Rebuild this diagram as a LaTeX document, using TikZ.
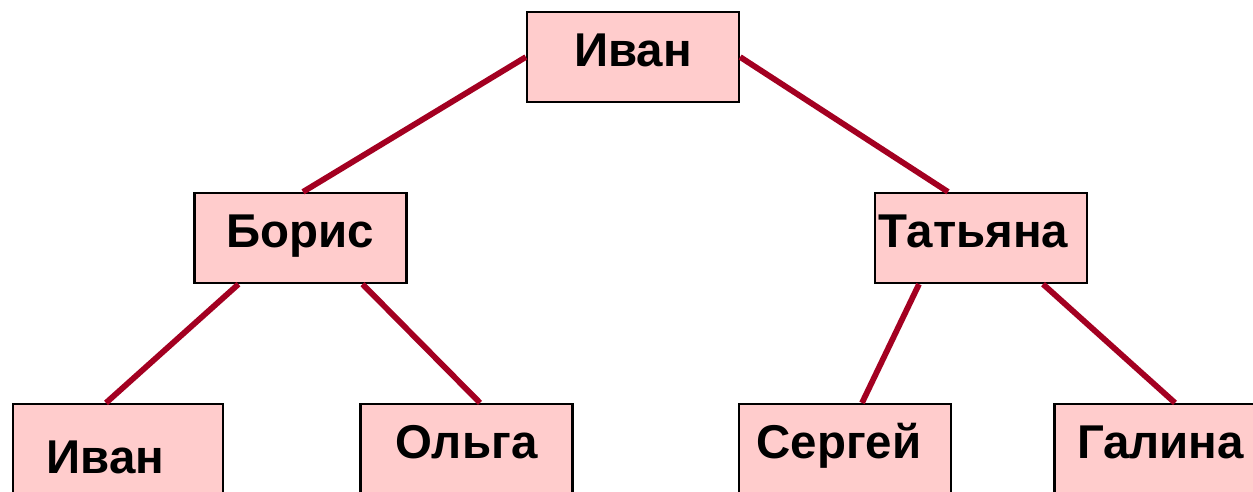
\documentclass[tikz,border=0pt]{standalone}
\usepackage{fontspec}
\setmainfont{Liberation Sans}
\usetikzlibrary{calc}
\definecolor{boxpink}{RGB}{255,204,204}
\definecolor{linkred}{RGB}{163,0,33}

\begin{document}
\begin{tikzpicture}[x=0.02cm, y=-0.02cm,
        person/.style={rectangle, draw=black, line width=1.3pt, fill=boxpink, minimum width=4.24cm, minimum height=1.8cm, inner sep=0pt, text height=0.36cm, text depth=0pt, font=\fontsize{27}{31}\selectfont\bfseries},
        link/.style={draw=linkred, line width=3.3pt}]
        \useasboundingbox (0,0) rectangle (1253,491);
        \clip (0,0) rectangle (1253,491);

        % top
        \node[person] (root) at (633, 57) {Иван};

        % second row
        \node[person] (boris) at (300.5, 238) {Борис};
        \node[person] (tatiana) at (981, 238) {Татьяна\hspace*{0.3cm}};

        % third row
        \node[person, minimum width=4.2cm, text height=0.96cm] (ivan) at (118, 449) {Иван\hspace*{0.5cm}};
        \node[person] (olga) at (466.5, 449) {Ольга};
        \node[person] (sergei) at (845, 449) {Сергей\hspace*{0.24cm}};
        \node[person] (galina) at (1160.5, 449) {Галина};

        % links
        \draw[link] (root.west) -- ($(boris.north)+(2.5,0)$);
        \draw[link] (root.east) -- ($(tatiana.north)+(-33,0)$);
        \draw[link] ($(boris.south)+(-62,0)$) -- ($(ivan.north)+(-12,0)$);
        \draw[link] ($(boris.south)+(62,0)$) -- ($(olga.north)+(13.5,0)$);
        \draw[link] ($(tatiana.south)+(-62,0)$) -- ($(sergei.north)+(17,0)$);
        \draw[link] ($(tatiana.south)+(62,0)$) -- ($(galina.north)+(14.5,0)$);
    \end{tikzpicture}
\end{document}
